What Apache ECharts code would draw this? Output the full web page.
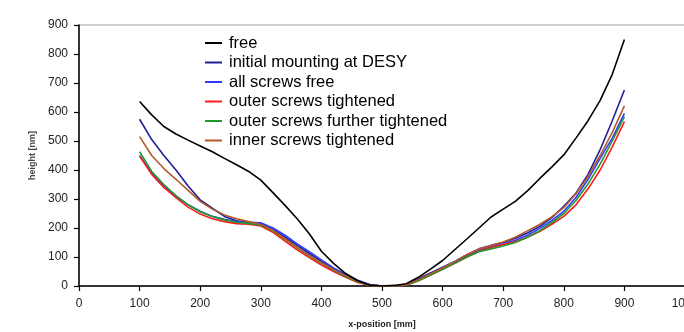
<!DOCTYPE html>
<html>
<head>
<meta charset="utf-8">
<script src="https://cdn.jsdelivr.net/npm/echarts@6/dist/echarts.min.js"></script>
<style>
html,body{margin:0;padding:0;background:#fff;}
#chart{width:684px;height:332px;}
</style>
</head>
<body>
<div id="chart"></div>
<script>
// x-position [mm]
const xPos = [100,120,140,160,180,200,220,240,260,280,300,320,340,360,380,400,420,440,460,480,500,520,540,560,580,600,620,640,660,680,700,720,740,760,780,800,820,840,860,880,900];

const seriesNames = ["free","initial mounting at DESY","all screws free","outer screws tightened","outer screws further tightened","inner screws tightened"];

const free = [636,590,550,524,503,483,463,440,418,395,365,322,278,232,180,120,78,43,18,3,0,2,8,30,58,88,125,162,200,238,265,292,328,370,410,452,510,570,640,730,850];
const initialDESY = [575,505,450,400,345,297,268,240,225,220,215,195,168,140,112,85,60,38,18,4,0,0,5,25,45,65,85,108,128,140,150,165,183,205,235,275,320,385,470,570,676];
const allFree = [450,390,345,310,280,258,240,230,222,220,218,200,175,145,118,90,62,40,20,5,0,0,3,20,40,60,80,103,122,135,145,158,175,198,225,258,305,368,440,510,595];
const outerTight = [448,385,340,305,272,248,232,222,215,213,207,185,155,125,98,72,50,30,12,2,0,0,3,18,38,58,78,100,120,133,143,153,168,188,213,240,280,335,400,480,567];
const outerFurther = [463,395,350,312,280,256,240,228,220,216,210,190,162,132,104,78,54,33,14,3,0,0,3,18,38,58,78,100,118,128,138,150,168,190,218,250,295,352,420,500,584];
const innerTight = [515,450,405,368,330,292,265,245,232,222,212,192,163,133,105,80,56,35,15,3,0,0,4,22,42,62,84,108,128,140,152,168,190,212,238,270,318,378,450,530,621];

const xTicks = [0,100,200,300,400,500,600,700,800,900,1000];
const yTicks = [0,100,200,300,400,500,600,700,800,900];

const values = [free, initialDESY, allFree, outerTight, outerFurther, innerTight];
const colors = ["#000000","#1f1f96","#2f3cff","#ff1a1a","#1f9a2a","#b5582c"];
const legendRowCenters = [43,62.5,82,101.5,121,140.5];

const chart = echarts.init(document.getElementById('chart'));
const option = {
  animation: false,
  grid: {left:79, top:25, width:606, height:261, containLabel:false, outerBoundsMode:'none', show:true, borderColor:'#a0a0a0', borderWidth:1, backgroundColor:'transparent'},
  xAxis: {
    type:'value', min:xTicks[0], max:xTicks[xTicks.length-1], interval:100,
    name:'x-position [mm]', nameLocation:'middle', nameGap:34,
    nameTextStyle:{fontSize:9, fontWeight:'bold', color:'#222', fontFamily:'Liberation Sans, Arial'},
    axisLine:{show:true, lineStyle:{color:'#000', width:1.5}},
    axisTick:{show:true, inside:false, length:5, lineStyle:{color:'#000', width:1.2}},
    axisLabel:{fontSize:12, color:'#222', margin:12, fontFamily:'Liberation Sans, Arial', formatter:(v)=>String(v)},
    splitLine:{show:false}
  },
  yAxis: {
    type:'value', min:yTicks[0], max:yTicks[yTicks.length-1], interval:100,
    name:'height [nm]', nameLocation:'middle', nameGap:42, nameRotate:90,
    nameTextStyle:{fontSize:9, fontWeight:'bold', color:'#444', fontFamily:'Liberation Sans, Arial'},
    axisLine:{show:true, lineStyle:{color:'#000', width:1.5}},
    axisTick:{show:true, inside:false, length:5, lineStyle:{color:'#000', width:1.2}},
    axisLabel:{fontSize:12, color:'#222', margin:11, fontFamily:'Liberation Sans, Arial', formatter:(v)=>String(v)},
    splitLine:{show:false}
  },
  legend: seriesNames.map((n,i)=>({
    data:[{name:n, icon:'rect'}], orient:'vertical', left:205, top:legendRowCenters[i]-10,
    padding:0, itemWidth:17, itemHeight:2,
    textStyle:{fontSize:16.5, color:'#000', lineHeight:20, padding:[0,0,0,2], fontFamily:'Liberation Sans, Arial'}
  })),
  series: seriesNames.map((n,i)=>({
    name:n, type:'line', showSymbol:false, symbol:'none',
    data: xPos.map((x,k)=>[x, values[i][k]]),
    lineStyle:{color:colors[i], width:1.6},
    itemStyle:{color:colors[i]},
    z: i===0 ? 3 : 2
  }))
};
chart.setOption(option);
</script>
</body>
</html>
